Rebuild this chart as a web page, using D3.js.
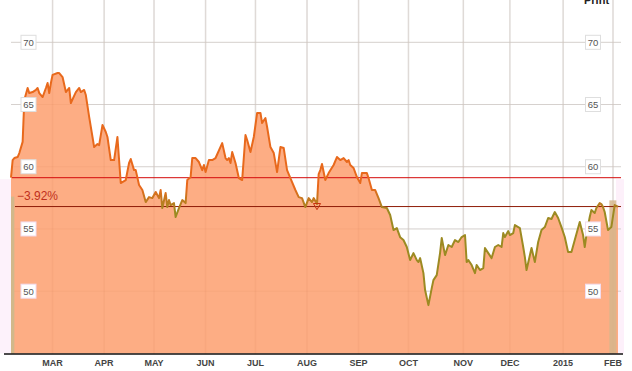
<!DOCTYPE html>
<html>
<head>
<meta charset="utf-8">
<script src="https://cdnjs.cloudflare.com/ajax/libs/d3/7.8.5/d3.min.js"></script>
<style>
  html, body { margin: 0; padding: 0; background: #fff; }
  svg { display: block; font-family: "Liberation Sans", Arial, sans-serif; }
</style>
</head>
<body>
<div id="chart"></div>
<script>
(function() {
    'use strict';

    // daily closes (date, price)
    var dates = [
      "2014-02-04","2014-02-05","2014-02-06","2014-02-08","2014-02-09","2014-02-11","2014-02-12","2014-02-14",
      "2014-02-15","2014-02-17","2014-02-19","2014-02-20","2014-02-21","2014-02-23","2014-02-25","2014-02-26",
      "2014-02-27","2014-02-28","2014-03-01","2014-03-04","2014-03-05","2014-03-07","2014-03-09","2014-03-11",
      "2014-03-12","2014-03-15","2014-03-17","2014-03-18","2014-03-20","2014-03-21","2014-03-23","2014-03-25",
      "2014-03-26","2014-03-28","2014-03-29","2014-03-31","2014-04-02","2014-04-03","2014-04-05","2014-04-07",
      "2014-04-09","2014-04-10","2014-04-11","2014-04-14","2014-04-16","2014-04-17","2014-04-19","2014-04-20",
      "2014-04-22","2014-04-24","2014-04-26","2014-04-28","2014-04-30","2014-05-02","2014-05-04","2014-05-05",
      "2014-05-06","2014-05-08","2014-05-09","2014-05-10","2014-05-11","2014-05-13","2014-05-14","2014-05-16",
      "2014-05-18","2014-05-20","2014-05-21","2014-05-23","2014-05-24","2014-05-26","2014-05-28","2014-05-30",
      "2014-05-31","2014-06-01","2014-06-03","2014-06-05","2014-06-07","2014-06-11","2014-06-13","2014-06-14",
      "2014-06-15","2014-06-16","2014-06-17","2014-06-19","2014-06-21","2014-06-23","2014-06-25","2014-06-26",
      "2014-06-28","2014-06-30","2014-07-02","2014-07-04","2014-07-05","2014-07-07","2014-07-08","2014-07-10",
      "2014-07-12","2014-07-14","2014-07-16","2014-07-18","2014-07-20","2014-07-22","2014-07-25","2014-07-27",
      "2014-07-29","2014-07-31","2014-08-02","2014-08-04","2014-08-05","2014-08-07","2014-08-08","2014-08-09",
      "2014-08-10","2014-08-12","2014-08-14","2014-08-17","2014-08-19","2014-08-21","2014-08-23","2014-08-25",
      "2014-08-26","2014-08-27","2014-08-29","2014-08-31","2014-09-02","2014-09-03","2014-09-06","2014-09-07",
      "2014-09-09","2014-09-11","2014-09-13","2014-09-15","2014-09-18","2014-09-20","2014-09-22","2014-09-24",
      "2014-09-26","2014-09-28","2014-09-30","2014-10-02","2014-10-04","2014-10-06","2014-10-07","2014-10-08",
      "2014-10-10","2014-10-11","2014-10-13","2014-10-15","2014-10-16","2014-10-18","2014-10-20","2014-10-21",
      "2014-10-23","2014-10-25","2014-10-27","2014-10-29","2014-10-31","2014-11-02","2014-11-04","2014-11-05",
      "2014-11-06","2014-11-08","2014-11-10","2014-11-11","2014-11-13","2014-11-15","2014-11-16","2014-11-18",
      "2014-11-20","2014-11-22","2014-11-24","2014-11-26","2014-11-27","2014-11-28","2014-11-30","2014-12-01",
      "2014-12-03","2014-12-04","2014-12-06","2014-12-07","2014-12-09","2014-12-10","2014-12-11","2014-12-14",
      "2014-12-16","2014-12-18","2014-12-20","2014-12-22","2014-12-24","2014-12-26","2014-12-28","2014-12-30",
      "2015-01-01","2015-01-03","2015-01-05","2015-01-07","2015-01-09","2015-01-12","2015-01-14","2015-01-15",
      "2015-01-16","2015-01-18","2015-01-19","2015-01-21","2015-01-22","2015-01-24","2015-01-25","2015-01-26",
      "2015-01-27","2015-01-29","2015-01-31","2015-02-02","2015-02-04"
    ];

    var prices = [
      59.12, 60.54, 60.70, 60.78, 61.10, 62.00, 65.36, 66.33,
      65.92, 66.00, 66.17, 66.33, 65.92, 65.60, 66.33, 66.73,
      65.92, 66.73, 67.38, 67.53, 67.53, 67.21, 66.00, 66.33,
      65.12, 66.00, 66.33, 66.00, 66.17, 65.76, 64.00, 62.39,
      61.58, 61.82, 61.74, 63.35, 62.79, 62.39, 60.54, 60.54,
      62.39, 60.54, 58.69, 58.93, 60.30, 60.62, 59.73, 59.73,
      58.53, 58.13, 57.16, 57.56, 57.48, 57.97, 57.48, 58.13,
      56.68, 57.89, 56.76, 57.32, 56.92, 57.08, 55.96, 56.68,
      57.32, 57.08, 58.93, 59.17, 60.70, 60.70, 60.38, 59.73,
      60.14, 59.57, 60.54, 60.54, 60.70, 61.90, 60.70, 60.54,
      60.70, 60.30, 61.18, 60.30, 59.09, 58.93, 62.55, 62.15,
      61.18, 62.39, 64.32, 64.32, 63.51, 63.91, 63.19, 61.58,
      61.10, 59.57, 61.58, 61.50, 59.73, 59.09, 58.13, 57.56,
      57.48, 56.76, 57.48, 57.16, 57.48, 57.00, 59.40, 59.73,
      60.22, 58.93, 59.49, 60.14, 60.78, 60.54, 60.70, 60.38,
      60.54, 60.14, 59.90, 59.17, 58.69, 59.49, 59.49, 59.09,
      58.13, 58.13, 57.48, 56.76, 56.68, 56.12, 54.91, 55.07,
      54.34, 54.11, 53.55, 52.50, 53.06, 52.50, 52.34, 52.66,
      51.45, 50.09, 48.88, 50.25, 50.89, 51.29, 53.06, 54.27,
      52.90, 53.71, 53.55, 54.11, 53.95, 54.35, 54.51, 52.34,
      52.50, 52.10, 51.45, 52.10, 51.70, 51.86, 53.47, 53.06,
      52.66, 53.55, 53.71, 53.55, 54.67, 54.35, 54.83, 54.51,
      54.67, 55.31, 55.15, 55.07, 53.55, 52.74, 51.70, 53.47,
      52.34, 53.95, 54.91, 55.15, 55.88, 55.80, 56.36, 55.88,
      55.15, 54.35, 53.14, 53.14, 54.11, 55.56, 54.51, 53.55,
      54.51, 55.96, 56.52, 56.28, 56.68, 57.08, 57.00, 56.76,
      56.36, 54.91, 55.15, 56.92, 56.80
    ];

    var priceTicks = [50, 55, 60, 65, 70];
    var monthTicks = ["2014-03-01","2014-04-01","2014-05-01","2014-06-01","2014-07-01","2014-08-01",
                      "2014-09-01","2014-10-01","2014-11-03","2014-12-01","2015-01-02","2015-02-01"];
    var dateRange = ["2014-02-04", "2015-02-04"];
    var priceRange = [45, 70];

    var parse = d3.timeParse("%Y-%m-%d");
    var data = dates.map(function(d, i) { return {date: parse(d), price: prices[i]}; });

    var width = 632, height = 371;

    var svg = d3.select("#chart").append("svg")
        .attr("width", width)
        .attr("height", height);

    var xScale = d3.scaleTime()
        .domain(dateRange.map(parse))
        .range([11, 618]);

    var yScale = d3.scaleLinear()
        .domain(priceRange)
        .range([353.4, 42.3]);

    var first = prices[0],
        last = prices[prices.length - 1],
        change = (last - first) / first * 100;

    var defs = svg.append("defs");

    // line goes from orange to olive as it drops under the latest price
    var grad = defs.append("linearGradient")
        .attr("id", "lineGrad")
        .attr("gradientUnits", "userSpaceOnUse")
        .attr("x1", 0).attr("x2", 0)
        .attr("y1", yScale(58.3))
        .attr("y2", yScale(56.4));
    grad.append("stop").attr("offset", "0").attr("stop-color", "#e8691c");
    grad.append("stop").attr("offset", "1").attr("stop-color", "#9c8a22");

    // faint pink side bands
    svg.append("rect")
        .attr("x", 0).attr("y", yScale(59))
        .attr("width", xScale.range()[0]).attr("height", yScale(45) - yScale(59))
        .attr("fill", "#fdf2fb");
    svg.append("rect")
        .attr("x", xScale.range()[1] - 2).attr("y", yScale(59))
        .attr("width", 8).attr("height", yScale(45) - yScale(59))
        .attr("fill", "#fdf0fa");

    // grid
    var gridX = svg.append("g").attr("class", "grid-x");
    gridX.selectAll("line")
        .data(monthTicks)
      .enter().append("line")
        .attr("x1", function(d) { return xScale(parse(d)); })
        .attr("x2", function(d) { return xScale(parse(d)); })
        .attr("y1", 0)
        .attr("y2", yScale(45))
        .attr("stroke", "#e3e3e3")
        .attr("stroke-width", 1.5);

    var gridY = svg.append("g").attr("class", "grid-y");
    gridY.selectAll("line")
        .data(priceTicks)
      .enter().append("line")
        .attr("x1", 11)
        .attr("x2", 621)
        .attr("y1", function(d) { return yScale(d); })
        .attr("y2", function(d) { return yScale(d); })
        .attr("stroke", "#d9d9d9")
        .attr("stroke-width", 1);

    // area
    var area = d3.area()
        .x(function(d) { return xScale(d.date); })
        .y0(yScale(45))
        .y1(function(d) { return yScale(d.price); });

    svg.append("path")
        .datum(data)
        .attr("d", area)
        .attr("fill", "#fdad84");

    // grid showing faintly through the fill
    svg.append("g").selectAll("line")
        .data(monthTicks)
      .enter().append("line")
        .attr("x1", function(d) { return xScale(parse(d)); })
        .attr("x2", function(d) { return xScale(parse(d)); })
        .attr("y1", 0)
        .attr("y2", yScale(45))
        .attr("stroke", "#b05020")
        .attr("stroke-opacity", 0.06)
        .attr("stroke-width", 1.5);
    svg.append("g").selectAll("line")
        .data(priceTicks)
      .enter().append("line")
        .attr("x1", 11)
        .attr("x2", 621)
        .attr("y1", function(d) { return yScale(d); })
        .attr("y2", function(d) { return yScale(d); })
        .attr("stroke", "#b05020")
        .attr("stroke-opacity", 0.06);

    // tan highlight bars at both ends
    svg.append("rect")
        .attr("x", xScale(data[0].date))
        .attr("y", yScale(57.6))
        .attr("width", xScale(data[2].date) - xScale(data[0].date))
        .attr("height", yScale(45) - yScale(57.6))
        .attr("fill", "#d2b88a");
    svg.append("rect")
        .attr("x", xScale(data[data.length - 3].date) - 2)
        .attr("y", yScale(57.3))
        .attr("width", 7)
        .attr("height", yScale(45) - yScale(57.3))
        .attr("fill", "#d6b68c")
        .attr("fill-opacity", 0.85);

    // reference lines: first price and last price
    svg.append("line")
        .attr("x1", 12).attr("x2", 621)
        .attr("y1", yScale(first)).attr("y2", yScale(first))
        .attr("stroke", "#d40a0a")
        .attr("stroke-width", 1);

    svg.append("line")
        .attr("x1", 15).attr("x2", 621)
        .attr("y1", yScale(last)).attr("y2", yScale(last))
        .attr("stroke", "#8e1c08")
        .attr("stroke-width", 1);

    svg.append("text")
        .attr("x", 17)
        .attr("y", yScale(last) - 7)
        .attr("fill", "#c0301c")
        .style("font-size", "12px")
        .text(d3.format(".2f")(change) + "%");

    // price line
    var line = d3.line()
        .x(function(d) { return xScale(d.date); })
        .y(function(d) { return yScale(d.price); });

    svg.append("path")
        .datum(data)
        .attr("d", line)
        .attr("fill", "none")
        .attr("stroke", "url(#lineGrad)")
        .attr("stroke-width", 2)
        .attr("stroke-linejoin", "round");

    // small marker where the price crossed back
    var mk = data[109];
    svg.append("path")
        .attr("d", d3.symbol().type(d3.symbolTriangle).size(22))
        .attr("transform", "translate(" + xScale(mk.date) + "," + (yScale(last) - 1) + ") rotate(180)")
        .attr("fill", "none")
        .attr("stroke", "#c8340e")
        .attr("stroke-width", 1);

    // boxed price labels, both sides
    [28.5, 593].forEach(function(lx) {
        var lab = svg.append("g").selectAll("g")
            .data(priceTicks)
          .enter().append("g")
            .attr("transform", function(d) { return "translate(" + lx + "," + yScale(d) + ")"; });

        lab.append("rect")
            .attr("x", -7.5).attr("y", -7)
            .attr("width", 15).attr("height", 14)
            .attr("fill", "#fff")
            .attr("stroke", function(d) { return d < 58 ? "#f2dcef" : "#dedede"; });

        lab.append("text")
            .attr("text-anchor", "middle")
            .attr("dy", ".35em")
            .attr("fill", "#555")
            .style("font-size", "9.5px")
            .text(function(d) { return d; });
    });

    // x axis
    svg.append("line")
        .attr("x1", 4).attr("x2", 623)
        .attr("y1", yScale(45) + 0.5).attr("y2", yScale(45) + 0.5)
        .attr("stroke", "#111")
        .attr("stroke-width", 1.5);

    var fmtMonth = d3.timeFormat("%b"), fmtYear = d3.timeFormat("%Y");
    svg.append("g").selectAll("text")
        .data(monthTicks)
      .enter().append("text")
        .attr("x", function(d) { return xScale(parse(d)); })
        .attr("y", 366)
        .attr("text-anchor", "middle")
        .attr("fill", "#444")
        .style("font-size", "9px")
        .style("font-weight", "bold")
        .text(function(d) {
            var dt = parse(d);
            return dt.getMonth() === 0 ? fmtYear(dt) : fmtMonth(dt).toUpperCase();
        });

    // header link at the top right (cut off by the frame in the original)
    svg.append("text")
        .attr("x", 584)
        .attr("y", 4)
        .attr("fill", "#222")
        .style("font-size", "11px")
        .style("font-weight", "bold")
        .text("Print");

})();
</script>
</body>
</html>
